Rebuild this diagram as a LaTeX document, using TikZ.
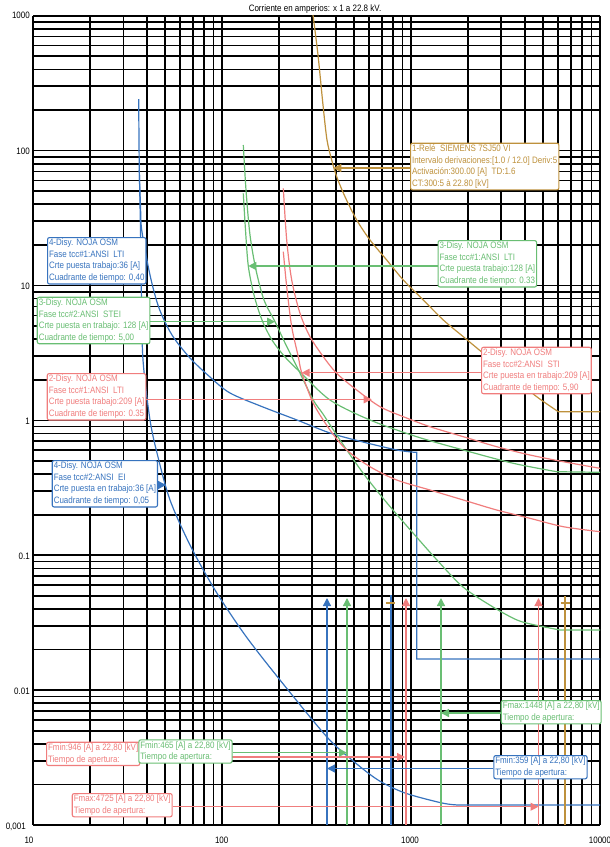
\documentclass[tikz,border=0pt]{standalone}
\usepackage{fontspec}
\setmainfont{Liberation Sans}[FakeStretch=0.86]
\usetikzlibrary{arrows.meta}
\pgfdeclarelayer{front}
\pgfsetlayers{main,front}
\definecolor{cblue}{RGB}{55,115,190}
\definecolor{cgreen}{RGB}{105,190,115}
\definecolor{cpink}{RGB}{240,125,125}
\definecolor{cgold}{RGB}{190,145,60}
\tikzset{
  gridln/.style={line width=1.7pt,black},
  crv/.style={line width=1.2pt},
  lbl/.style={draw,rounded corners=2pt,line width=1.1pt,fill=white,anchor=north west,
    align=left,inner sep=1.5pt,font=\fontsize{9.3}{11.6}\selectfont},
  ptr/.style={line width=1.3pt,-{Triangle[length=8pt,width=8pt]}},
  axl/.style={font=\fontsize{9.3}{11}\selectfont,inner sep=0pt},
}
\begin{document}
\begin{tikzpicture}[x=1pt,y=-1pt]
\useasboundingbox (0,0) rectangle (610,847);
% grid
\foreach \e in {1,2,3}{\foreach \m in {1,...,9}{
  \draw[gridln] ({33.3+188.9*(\e-1+log10(\m))},15.7) -- ++(0,809.4);}}
\draw[gridln] (600,15.7) -- (600,825.1);
\foreach \e in {-3,...,2}{\foreach \m in {1,...,9}{
  \draw[gridln] (33.3,{15.7+134.9*(3-\e-log10(\m))}) -- (600,{15.7+134.9*(3-\e-log10(\m))});}}
\draw[gridln] (33.3,15.7) -- (600,15.7);
% axis labels
\node[axl] (title) at (315,9) {Corriente en amperios: x 1 a 22.8 kV.};
\node[axl,anchor=east] (y1000) at (30,15.7) {1000};
\node[axl,anchor=east] (y100) at (30,151) {100};
\node[axl,anchor=east] (y10) at (30,286) {10};
\node[axl,anchor=east] (y1) at (30,421) {1};
\node[axl,anchor=east] (y01) at (30,556) {0.1};
\node[axl,anchor=east] (y001) at (30,691) {0.01};
\node[axl,anchor=east] (y0001) at (26,827) {0,001};
\node[axl] (x10) at (29,840) {10};
\node[axl] (x100) at (221.7,840) {100};
\node[axl] (x1000) at (410,840) {1000};
\node[axl] (x10000) at (600,840) {10000};
% relay curve (gold)
\draw[crv,cgold] plot[smooth,tension=0.5] coordinates {(313,15) (318,55) (323,105) (327,140) (331.7,160) (336.7,176.7) (345,196.7) (356.7,220) (370,240) (386.7,260) (403.3,280) (423.3,300) (443.3,320) (463.3,336.7) (483.3,353.3) (510,375) (536.7,396.7) (558.3,411.7)} -- (600,411.7);
% blue LTI
\draw[crv,cblue] plot[smooth,tension=0.5] coordinates {(138.7,99) (139.3,170) (140.5,205) (141.7,230) (150,275) (159,308) (172,335) (190,358) (210,377) (230,393) (263,407) (297,420) (330,433) (363,442) (397,450) (415,452.3)} -- (416.7,452.3) -- (416.7,659) -- (600,659);
% blue EI
\draw[crv,cblue] plot[smooth,tension=0.5] coordinates {(139.3,170) (140.5,230) (141.5,300) (143,360) (150,420) (158,457) (170,500) (190,545) (215,590) (245,635) (280,680) (326.7,736.7) (352,760) (378,780) (405,793) (442,803) (458,805)} -- (600,805);
% green LTI
\draw[crv,cgreen] plot[smooth,tension=0.5] coordinates {(243.3,193.3) (245.5,230) (248.3,266) (254,295) (262,320) (272,340) (285,357) (300,372) (330,400) (370,420) (416.7,436.7) (463.3,450) (513.3,463.3) (556.7,471.7)} -- (600,472.3);
% green STEI
\draw[crv,cgreen] plot[smooth,tension=0.5] coordinates {(243.3,145) (246,190) (250,235) (256,270) (264,300) (275,321.7) (286,345) (297,367) (313.3,400) (323,414) (340,440) (363,473) (387,503) (413,533) (437,560) (463,587) (493,607) (517,620) (535,625) (560,630)} -- (600,630);
% pink LTI
\draw[crv,cpink] plot[smooth,tension=0.5] coordinates {(283.3,188.3) (286.7,240) (291.7,280) (300,313.3) (310,336.7) (323.3,356.7) (336.7,373.3) (356.7,390) (380,406.7) (403.3,416.7) (430,426.7) (463.3,436.7) (496.7,446.7) (530,455) (563.3,461.7) (600,468.3)};
% pink STI
\draw[crv,cpink] plot[smooth,tension=0.5] coordinates {(283.3,251.7) (286.7,286.7) (291.7,326.7) (298.3,356.7) (301.7,372.7) (313.3,403.3) (330,430) (346.7,450) (370,466.7) (396.7,480) (430,490) (463.3,500) (496.7,510) (530,518.3) (563.3,526.7) (600,531.7)};
% fault verticals
\coordinate (vb1) at (327,825); \coordinate (vb1t) at (327,598);
\coordinate (vg1) at (347,825); \coordinate (vg1t) at (347,598);
\coordinate (vp1) at (406,825); \coordinate (vp1t) at (406,598);
\coordinate (vg2) at (441,825); \coordinate (vg2t) at (441,598);
\coordinate (vp2) at (538.5,825); \coordinate (vp2t) at (538.5,598);
\draw[ptr,cblue] (vb1) -- (vb1t);
\draw[ptr,cgreen] (vg1) -- (vg1t);
\draw[ptr,cpink] (vp1) -- (vp1t);
\draw[ptr,cgreen] (vg2) -- (vg2t);
\draw[ptr,cpink] (vp2) -- (vp2t);
\coordinate (vb2) at (391,825); \coordinate (vb2t) at (391,595);
\coordinate (vo1) at (565,825); \coordinate (vo1t) at (565,596);
\draw[crv,cblue] (vb2) -- (vb2t);
\draw[crv,cgold] (vo1) -- (vo1t);
\draw[line width=1.8pt,cgold] (386,603.3) -- (395,603.3);
\draw[line width=1.8pt,cgold] (560.5,603.3) -- (569.5,603.3);
% labels (front layer, above pointers)
\begin{pgfonlayer}{front}
\node[lbl,draw=cgold,text=cgold] (relay) at (410,142.7) {1-Relé\ \ SIEMENS 7SJ50 VI\\Intervalo derivaciones:[1.0 / 12.0] Deriv:5\\Activación:300.00 [A]\ \ TD:1.6\\CT:300:5 à 22.80 [kV]};
\node[lbl,draw=cblue,text=cblue] (b4a) at (47,237) {4-Disy. NOJA OSM\\Fase tcc\#1:ANSI\ \ LTI\\Crte puesta trabajo:36 [A]\\Cuadrante de tiempo: 0,40};
\node[lbl,draw=cgreen,text=cgreen] (b3b) at (36.7,296.7) {3-Disy. NOJA OSM\\Fase tcc\#2:ANSI\ \ STEI\\Crte puesta en trabajo: 128 [A]\\Cuadrante de tiempo: 5,00};
\node[lbl,draw=cpink,text=cpink] (b2a) at (46.7,373) {2-Disy. NOJA OSM\\Fase tcc\#1:ANSI\ \ LTI\\Crte puesta trabajo:209 [A]\\Cuadrante de tiempo: 0.35};
\node[lbl,draw=cblue,text=cblue] (b4b) at (51.7,460) {4-Disy. NOJA OSM\\Fase tcc\#2:ANSI\ \ EI\\Crte puesta en trabajo:36 [A]\\Cuadrante de tiempo: 0,05};
\node[lbl,draw=cgreen,text=cgreen] (b3a) at (437.5,240) {3-Disy. NOJA OSM\\Fase tcc\#1:ANSI\ \ LTI\\Crte puesta trabajo:128 [A]\\Cuadrante de tiempo: 0.33};
\node[lbl,draw=cpink,text=cpink] (b2b) at (481,346.7) {2-Disy. NOJA OSM\\Fase tcc\#2:ANSI\ \ STI\\Crte puesta en trabajo:209 [A]\\Cuadrante de tiempo: 5,90};
\node[lbl,draw=cpink,text=cpink] (f946) at (46,741.7) {Fmin:946 [A] a 22,80 [kV]\\Tiempo de apertura:};
\node[lbl,draw=cgreen,text=cgreen] (f465) at (138.3,739.3) {Fmin:465 [A] a 22,80 [kV]\\Tiempo de apertura:};
\node[lbl,draw=cgreen,text=cgreen] (f1448) at (500.7,700) {Fmax:1448 [A] a 22,80 [kV]\\Tiempo de apertura:};
\node[lbl,draw=cblue,text=cblue] (f359) at (493.3,755) {Fmin:359 [A] a 22,80 [kV]\\Tiempo de apertura:};
\node[lbl,draw=cpink,text=cpink] (f4725) at (71.7,793) {Fmax:4725 [A] a 22,80 [kV]\\Tiempo de apertura:};
\end{pgfonlayer}
% pointers
\coordinate (prelay) at (333.3,168);
\draw[ptr,cgold] (relay.west|-prelay) -- (prelay);
\coordinate (p3a) at (248.3,266);
\draw[ptr,cgreen] (b3a.west|-p3a) -- (p3a);
\coordinate (p3b) at (275,321.7);
\draw[ptr,cgreen] (b3b.east|-p3b) -- (p3b);
\coordinate (p2a) at (371.7,399.3);
\draw[ptr,cpink] (b2a.east|-p2a) -- (p2a);
\coordinate (p2b) at (301.7,372.7);
\draw[ptr,cpink] (b2b.west|-p2b) -- (p2b);
\coordinate (p4b) at (166,485);
\draw[ptr,cblue] (b4b.east|-p4b) -- (p4b);
\coordinate (q946) at (405,757);
\draw[ptr,cpink] (f946.east|-q946) -- (q946);
\coordinate (q465) at (347,752.7);
\draw[ptr,cgreen] (f465.east|-q465) -- (q465);
\coordinate (q1448) at (441,713);
\draw[ptr,cgreen] (f1448.west|-q1448) -- (q1448);
\coordinate (q359) at (327,768.5);
\draw[ptr,cblue] (f359.west|-q359) -- (q359);
\coordinate (q4725) at (538.5,806.7);
\draw[ptr,cpink] (f4725.east|-q4725) -- (q4725);
\end{tikzpicture}
\end{document}
